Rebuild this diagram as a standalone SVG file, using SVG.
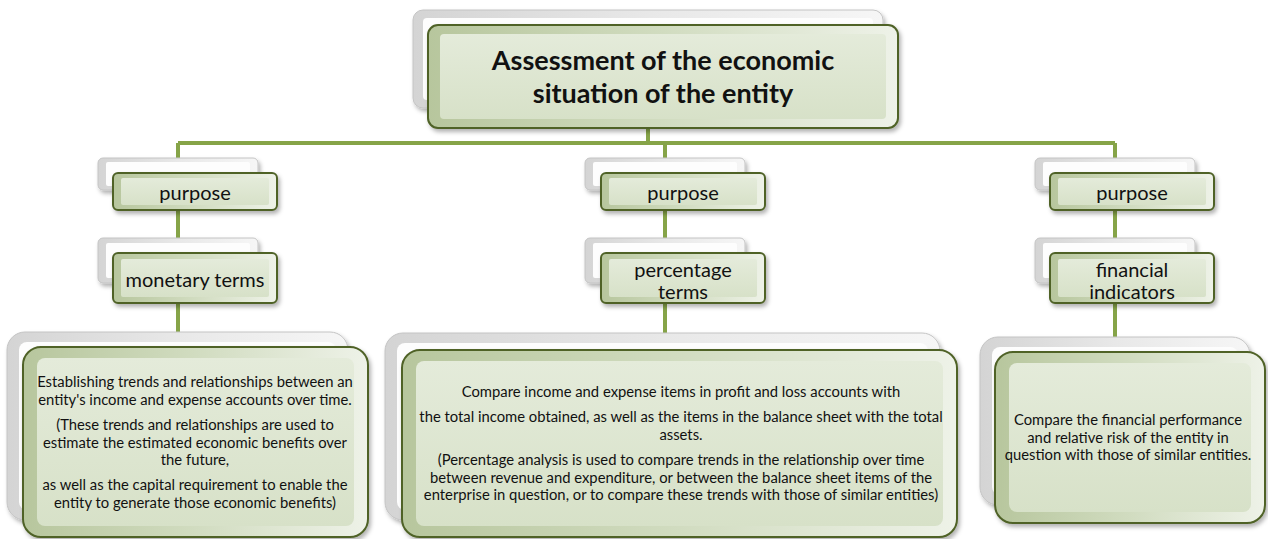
<svg xmlns="http://www.w3.org/2000/svg" width="1268" height="539" viewBox="0 0 1268 539">
<defs>
<filter id="sh" x="-10%" y="-10%" width="130%" height="140%"><feDropShadow dx="2" dy="3" stdDeviation="2" flood-color="#000" flood-opacity="0.3"/></filter>
<linearGradient id="gFront" x1="0" y1="0" x2="0" y2="1"><stop offset="0" stop-color="#e4ebda"/><stop offset="1" stop-color="#d7e1c8"/></linearGradient>
<linearGradient id="gEdge" x1="0" y1="0" x2="1" y2="0"><stop offset="0" stop-color="#b7c69d"/><stop offset="0.5" stop-color="#d1dcc0"/><stop offset="1" stop-color="#eef2e8"/></linearGradient>
<linearGradient id="gBack" x1="0" y1="0" x2="1" y2="0"><stop offset="0" stop-color="#d4d4d4"/><stop offset="0.5" stop-color="#e8e8e8"/><stop offset="1" stop-color="#f6f6f6"/></linearGradient>
</defs>
<style>
.bo{fill:url(#gBack);stroke:#c4c4c4;stroke-width:1;filter:url(#sh)}
.bi{fill:#fdfdfd}
.fo{fill:url(#gEdge);stroke:#4f6228;stroke-width:2;filter:url(#sh)}
.fi{fill:url(#gFront)}
.conn{stroke:#86a448;stroke-width:4;fill:none}
text{font-family:Lato,"Open Sans","Liberation Sans",sans-serif;fill:#111;text-anchor:middle}
.t{font-size:27px;font-weight:bold}
.m{font-size:20px}
.s{font-size:14.8px}
</style>
<g id="connectors">
<path class="conn" d="M648 128V143M178 143H1115M178 143V347M665 143V350M1115 143V352"/>
</g>
<g id="top">
<rect class="bo" x="413" y="10" width="470" height="98" rx="10"/>
<rect class="bi" x="423" y="18" width="450" height="82" rx="4"/>
<rect class="fo" x="428" y="25" width="470" height="103" rx="10"/>
<rect class="fi" x="440" y="34" width="446" height="85" rx="4"/>
<text class="t" x="663" y="70">Assessment of the economic</text>
<text class="t" x="663" y="103">situation of the entity</text>
</g>
<g id="purpose1">
<rect class="bo" x="98" y="158" width="160" height="32" rx="5"/>
<rect class="bi" x="106" y="162" width="144" height="24" rx="2"/>
<rect class="fo" x="113" y="173" width="164" height="37" rx="5"/>
<rect class="fi" x="121" y="178" width="148" height="27" rx="2"/>
<text class="m" x="195" y="200">purpose</text>
</g>
<g id="monetary">
<rect class="bo" x="98" y="238" width="160" height="45" rx="5"/>
<rect class="bi" x="106" y="243" width="144" height="35" rx="2"/>
<rect class="fo" x="113" y="253" width="164" height="50" rx="5"/>
<rect class="fi" x="121" y="259" width="148" height="38" rx="2"/>
<text class="m" x="195" y="287">monetary terms</text>
</g>
<g id="purpose2">
<rect class="bo" x="585" y="158" width="160" height="32" rx="5"/>
<rect class="bi" x="593" y="162" width="144" height="24" rx="2"/>
<rect class="fo" x="601" y="173" width="164" height="37" rx="5"/>
<rect class="fi" x="609" y="178" width="148" height="27" rx="2"/>
<text class="m" x="683" y="200">purpose</text>
</g>
<g id="percentage">
<rect class="bo" x="585" y="238" width="160" height="45" rx="5"/>
<rect class="bi" x="593" y="243" width="144" height="35" rx="2"/>
<rect class="fo" x="601" y="253" width="164" height="50" rx="5"/>
<rect class="fi" x="609" y="259" width="148" height="38" rx="2"/>
<text class="m" x="683" y="277">percentage</text>
<text class="m" x="683" y="299">terms</text>
</g>
<g id="purpose3">
<rect class="bo" x="1035" y="158" width="160" height="32" rx="5"/>
<rect class="bi" x="1043" y="162" width="144" height="24" rx="2"/>
<rect class="fo" x="1050" y="173" width="164" height="37" rx="5"/>
<rect class="fi" x="1058" y="178" width="148" height="27" rx="2"/>
<text class="m" x="1132" y="200">purpose</text>
</g>
<g id="financial">
<rect class="bo" x="1035" y="238" width="160" height="45" rx="5"/>
<rect class="bi" x="1043" y="243" width="144" height="35" rx="2"/>
<rect class="fo" x="1050" y="253" width="164" height="50" rx="5"/>
<rect class="fi" x="1058" y="259" width="148" height="38" rx="2"/>
<text class="m" x="1132" y="277">financial</text>
<text class="m" x="1132" y="299">indicators</text>
</g>
<g id="desc1">
<rect class="bo" x="7" y="332" width="341" height="188" rx="18"/>
<rect class="bi" x="19" y="342" width="317" height="168" rx="8"/>
<rect class="fo" x="23" y="347" width="345" height="190" rx="18"/>
<rect class="fi" x="37" y="358" width="317" height="168" rx="8"/>
<text class="s" x="195" y="387">Establishing trends and relationships between an</text>
<text class="s" x="195" y="405">entity's income and expense accounts over time.</text>
<text class="s" x="195" y="430">(These trends and relationships are used to</text>
<text class="s" x="195" y="448">estimate the estimated economic benefits over</text>
<text class="s" x="195" y="465">the future,</text>
<text class="s" x="195" y="490">as well as the capital requirement to enable the</text>
<text class="s" x="195" y="508">entity to generate those economic benefits)</text>
</g>
<g id="desc2">
<rect class="bo" x="385" y="333" width="555" height="187" rx="18"/>
<rect class="bi" x="397" y="343" width="531" height="167" rx="8"/>
<rect class="fo" x="402" y="350" width="555" height="187" rx="18"/>
<rect class="fi" x="416" y="361" width="527" height="165" rx="8"/>
<text class="s" x="681" y="397">Compare income and expense items in profit and loss accounts with</text>
<text class="s" x="681" y="422">the total income obtained, as well as the items in the balance sheet with the total</text>
<text class="s" x="681" y="440">assets.</text>
<text class="s" x="681" y="465">(Percentage analysis is used to compare trends in the relationship over time</text>
<text class="s" x="681" y="483">between revenue and expenditure, or between the balance sheet items of the</text>
<text class="s" x="681" y="500">enterprise in question, or to compare these trends with those of similar entities)</text>
</g>
<g id="desc3">
<rect class="bo" x="980" y="337" width="270" height="168" rx="18"/>
<rect class="bi" x="992" y="347" width="246" height="148" rx="8"/>
<rect class="fo" x="995" y="352" width="270" height="171" rx="18"/>
<rect class="fi" x="1009" y="363" width="242" height="149" rx="8"/>
<text class="s" x="1128" y="425">Compare the financial performance</text>
<text class="s" x="1128" y="443">and relative risk of the entity in</text>
<text class="s" x="1128" y="460">question with those of similar entities.</text>
</g>
</svg>
